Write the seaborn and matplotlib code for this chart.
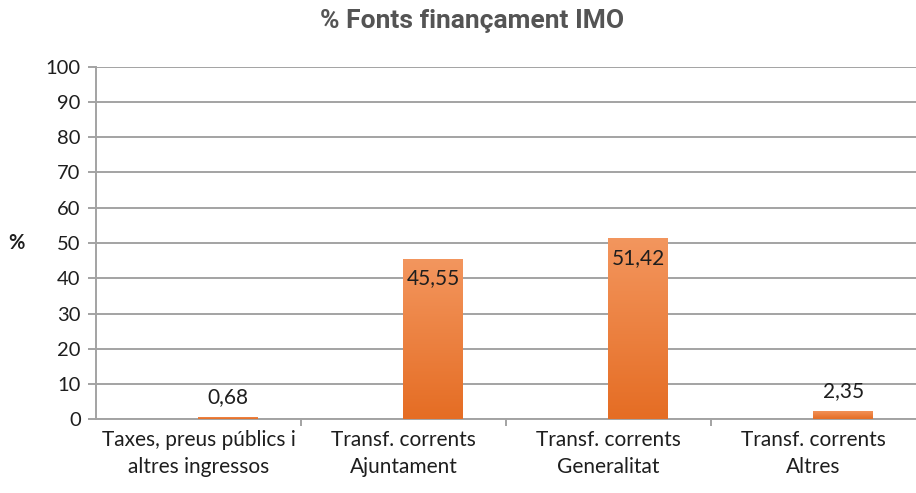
import numpy as np
import pandas as pd
import matplotlib
matplotlib.use("Agg")
import matplotlib.pyplot as plt
import matplotlib.colors as mcolors
import seaborn as sns

# ── Data ───────────────────────────────────────────────────────────────────────
categories = [
    "Taxes, preus públics i\naltres ingressos",
    "Transf. corrents\nAjuntament",
    "Transf. corrents\nGeneralitat",
    "Transf. corrents\nAltres",
]
values = [0.68, 45.55, 51.42, 2.35]
value_labels = ["0,68", "45,55", "51,42", "2,35"]
y_ticks = [0, 10, 20, 30, 40, 50, 60, 70, 80, 90, 100]

# Excel-style chart: a hidden empty series sits left of the visible one
series_order = ["buit", "IMO"]

sns.set_theme(style="white")
plt.rcParams["font.family"] = ["Lato", "DejaVu Sans"]

TOP_COL = "#F3965E"
BOT_COL = "#E56D24"
GRID_COL = "#A3A3A3"
TXT_COL = "#1e1e1e"

df = pd.DataFrame({"categoria": categories, "valor": values, "serie": "IMO"})

fig = plt.figure(figsize=(9.16, 4.93), dpi=100)
ax = fig.add_axes([0.1048, 0.1495, 0.8952, 0.7152])

sns.barplot(
    data=df, x="categoria", y="valor", hue="serie", hue_order=series_order,
    order=categories, width=0.58, dodge=True,
    palette={"buit": BOT_COL, "IMO": BOT_COL}, legend=False,
    linewidth=0, ax=ax, zorder=3,
)

# vertical orange gradient inside each bar
grad = mcolors.LinearSegmentedColormap.from_list("g", [BOT_COL, TOP_COL])
bars = [p for p in ax.patches if p.get_height() > 0]
for patch in bars:
    x0, w, h = patch.get_x(), patch.get_width(), patch.get_height()
    img = ax.imshow(
        np.linspace(0, 1, 100).reshape(-1, 1), cmap=grad, aspect="auto",
        extent=[x0, x0 + w, 0, h], origin="lower", zorder=3,
    )
    img.set_clip_path(patch)
    patch.set_alpha(0)

ax.set_xlim(-0.5, 3.5)
ax.set_ylim(0, 100)

# data labels: inside the top for tall bars, above for short ones
for patch, lab in zip(bars, value_labels):
    cx = patch.get_x() + patch.get_width() / 2
    h = patch.get_height()
    if h > 20:
        ax.annotate(lab, (cx, h), xytext=(0, -7), textcoords="offset points",
                    ha="center", va="top", fontsize=15, color=TXT_COL, zorder=5)
    else:
        ax.annotate(lab, (cx, h), xytext=(0, 7), textcoords="offset points",
                    ha="center", va="bottom", fontsize=15, color=TXT_COL, zorder=5)

# axes styling
ax.set_yticks(y_ticks)
ax.yaxis.grid(True, color=GRID_COL, linewidth=1.4, zorder=0)
ax.xaxis.grid(False)
ax.set_axisbelow(True)
for side in ["top", "right"]:
    ax.spines[side].set_visible(False)
for side in ["left", "bottom"]:
    ax.spines[side].set_color(GRID_COL)
    ax.spines[side].set_linewidth(1.4)

ax.tick_params(axis="y", which="major", length=6, width=1.4, color=GRID_COL,
               labelsize=14.5, labelcolor=TXT_COL, pad=5, left=True)
ax.set_xticks(range(len(categories)))
ax.set_xticklabels(categories, fontsize=15, color=TXT_COL, linespacing=1.4)
ax.tick_params(axis="x", which="major", length=0, pad=8)
ax.set_xticks([0.5, 1.5, 2.5], minor=True)
ax.tick_params(axis="x", which="minor", length=5, width=1.4, color=GRID_COL, bottom=True)

ax.set_xlabel("")
ax.set_ylabel("%", rotation=0, fontsize=14.5, fontweight="bold", color=TXT_COL,
              ha="center", va="center")
ax.yaxis.set_label_coords(-0.097, 0.5)

fig.suptitle("% Fonts finançament IMO", x=0.515, y=0.958, va="center", fontsize=19,
             fontweight="bold", color="#545454", family=["Roboto", "DejaVu Sans"])

fig.savefig("out.png", dpi=100)
plt.close(fig)
